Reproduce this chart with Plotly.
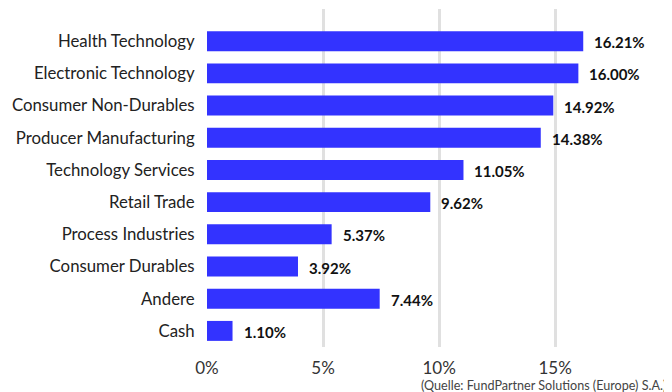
import plotly.graph_objects as go

categories = ["Health Technology", "Electronic Technology", "Consumer Non-Durables",
              "Producer Manufacturing", "Technology Services", "Retail Trade",
              "Process Industries", "Consumer Durables", "Andere", "Cash"]
values = [16.21, 16.00, 14.92, 14.38, 11.05, 9.62, 5.37, 3.92, 7.44, 1.10]
x_ticks = [0, 5, 10, 15]
x_tick_labels = ["0%", "5%", "10%", "15%"]
source_text = "(Quelle: FundPartner Solutions (Europe) S.A.)"

FONT = "Lato, 'Open Sans', sans-serif"
BAR_COLOR = "#3333FF"

fig = go.Figure(go.Bar(
    x=values,
    y=categories,
    orientation="h",
    marker=dict(color=BAR_COLOR, line=dict(width=0)),
    width=0.62,
    hoverinfo="skip",
))

for cat, val in zip(categories, values):
    fig.add_annotation(
        x=val, y=cat, text=f"<b>{val:.2f}%</b>",
        xanchor="left", yanchor="middle", xshift=9, yshift=-1,
        showarrow=False,
        font=dict(family=FONT, size=15, color="#111111"),
    )

fig.add_annotation(
    x=1, y=0, xref="paper", yref="paper", xanchor="right", yanchor="top",
    xshift=20, yshift=-29,
    text=source_text, showarrow=False,
    font=dict(family=FONT, size=12.6, color="#444444"),
)

# the page body adds an 8px margin, so the figure is kept 8px smaller
fig.update_layout(
    width=664, height=384,
    margin=dict(l=199, r=24, t=1, b=45, autoexpand=False),
    plot_bgcolor="white", paper_bgcolor="white",
    showlegend=False,
    font=dict(family=FONT, color="#222222"),
    xaxis=dict(
        range=[0, 19], tickmode="array", tickvals=x_ticks, ticktext=x_tick_labels,
        showgrid=True, gridcolor="#e0e0e0", gridwidth=3,
        zeroline=False, showline=False, automargin=False,
        tickfont=dict(size=17, color="#333333"),
        ticks="outside", ticklen=6, tickcolor="white",
    ),
    yaxis=dict(
        categoryorder="array", categoryarray=categories,
        range=[9.5, -1], automargin=False,
        showgrid=False, zeroline=False, showline=False,
        tickfont=dict(size=16.8, color="#222222"),
        ticks="outside", ticklen=8, tickcolor="white",
    ),
)

fig.write_html("out.html")
